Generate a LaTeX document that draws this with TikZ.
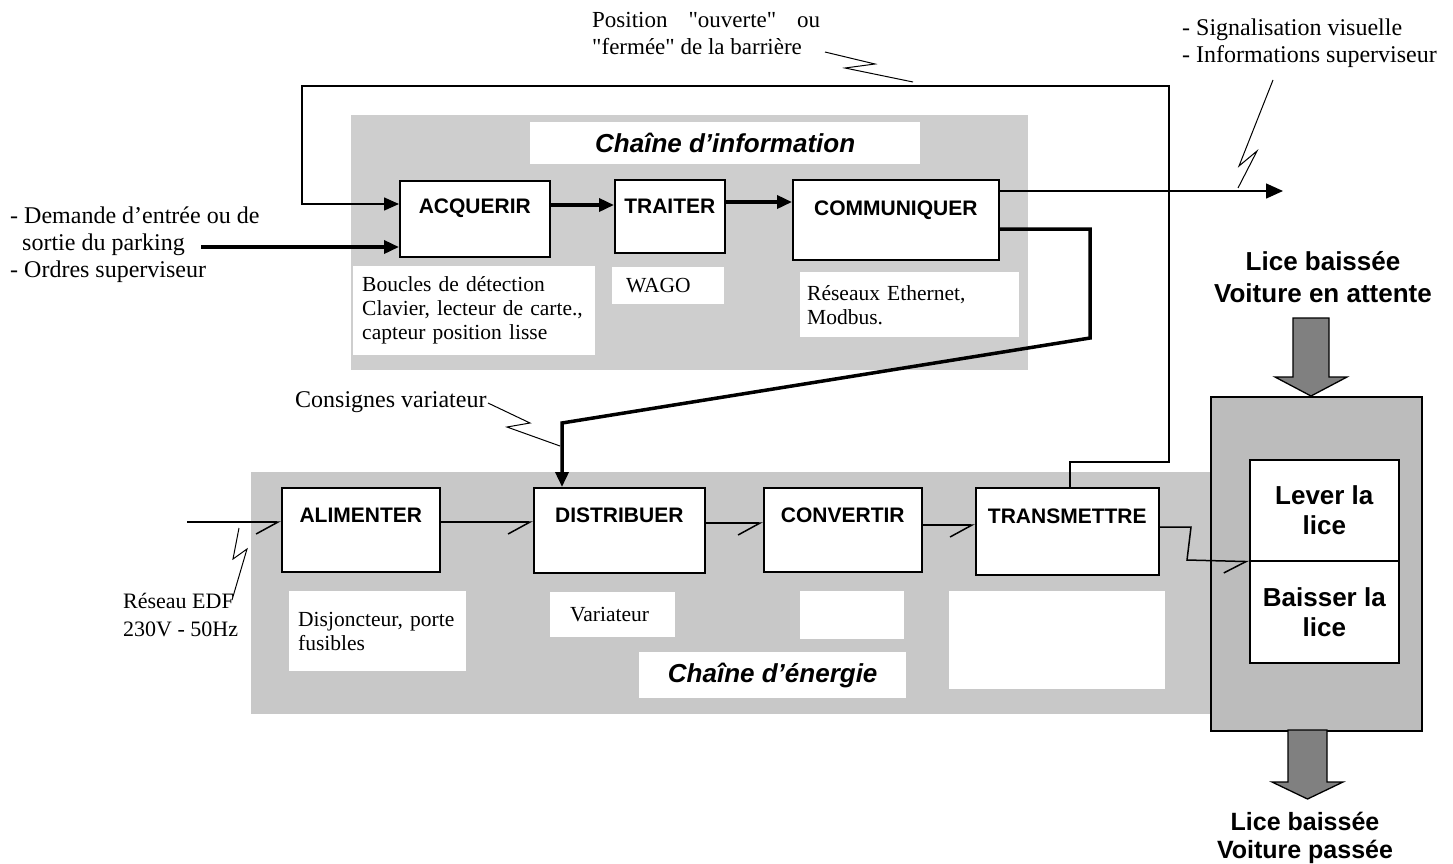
\documentclass[tikz,border=0pt]{standalone}
\usepackage{fontspec}
\setmainfont{Liberation Serif}[Ligatures=TeXOff]
\setsansfont{Liberation Sans}
\usetikzlibrary{arrows.meta,calc}
\definecolor{infogray}{RGB}{206,206,206}
\definecolor{enggray}{RGB}{200,200,200}
\definecolor{sysgray}{RGB}{188,188,188}
\definecolor{arrgray}{RGB}{128,128,128}
\newcommand{\fsz}[2]{\fontsize{#1}{#2}\selectfont}
\begin{document}
\begin{tikzpicture}[x=1pt,y=-1pt,
  fbox/.style={draw, line width=1.6pt, fill=white, anchor=north west, inner sep=0pt,
    font=\sffamily\bfseries\fsz{21}{25}, text height=16pt},
  lbox/.style={draw, line width=1.6pt, fill=white, anchor=north west, inner sep=0pt,
    align=center, font=\sffamily\bfseries\fsz{26}{30}},
  tbox/.style={fill=white, anchor=north west, inner ysep=0pt, align=left,
    font=\fsz{21.5}{24}},
  ttl/.style={fill=white, anchor=north west, inner sep=0pt,
    font=\sffamily\bfseries\itshape\fsz{26}{30}},
  note/.style={anchor=north west, inner sep=0pt, align=left},
  big/.style={inner sep=0pt, align=center, font=\sffamily\bfseries},
  thin/.style={line width=1.5pt},
  thick/.style={line width=3.5pt},
  zig/.style={line width=1pt},
  tri/.style={-{Triangle[length=15pt,width=13pt]}},
  barb/.style={-{Straight Barb[harpoon,swap,length=22pt,width=24pt]}},
  blockarrow/.style={line width=1.3pt, fill=arrgray, line join=miter}
]
\fill[white] (0,0) rectangle (1453,863);
\useasboundingbox (0,0) rectangle (1453,863);

% background zones
\fill[infogray] (351,115) rectangle (1028,370);
\fill[enggray] (251,472) rectangle (1215,714);
\node[draw, line width=1.6pt, fill=sysgray, anchor=north west, inner sep=0pt,
  minimum width=211pt, minimum height=334pt] (sys) at (1210,396) {};

% titles
\node[ttl, minimum width=390pt, minimum height=42pt] (tinfo) at (530,122) {Chaîne d’information};
\node[ttl, minimum width=267pt, minimum height=46pt] (teng) at (639,652) {Chaîne d’énergie};

% information chain
\node[fbox, minimum width=150pt, minimum height=76pt, text depth=26pt] (acq) at (399,180) {ACQUERIR};
\node[fbox, minimum width=110pt, minimum height=73pt, text depth=21pt] (tra) at (614,179) {TRAITER};
\node[fbox, minimum width=206pt, minimum height=80pt, text depth=24pt] (com) at (792,179) {COMMUNIQUER};

\node[tbox, text width=224pt, inner xsep=9pt, minimum height=89pt] (tacq) at (353,266)
  {Boucles de détection\\Clavier, lecteur de carte.,\\capteur position lisse};
\node[tbox, text width=84pt, inner xsep=14pt, minimum height=37pt] (ttra) at (612,267) {WAGO};
\node[tbox, text width=205pt, inner xsep=7pt, minimum height=65pt] (tcom) at (800,272)
  {Réseaux Ethernet,\\Modbus.};

% energy chain
\node[fbox, minimum width=158pt, minimum height=84pt, text depth=30pt] (ali) at (281,487) {ALIMENTER};
\node[fbox, minimum width=171pt, minimum height=85pt, text depth=31pt] (dis) at (533,487) {DISTRIBUER};
\node[fbox, minimum width=158pt, minimum height=84pt, text depth=30pt] (con) at (763,487) {CONVERTIR};
\node[fbox, minimum width=183pt, minimum height=87pt, text depth=31pt] (trm) at (975,487) {TRANSMETTRE};

\node[tbox, text width=159pt, inner xsep=9pt, minimum height=80pt] (tali) at (289,591)
  {Disjoncteur, porte\\fusibles};
\node[tbox, text width=85pt, inner xsep=20pt, minimum height=45pt] (tdis) at (550,592) {Variateur};
\node[tbox, inner xsep=0pt, minimum width=104pt, minimum height=48pt] (tcon) at (800,591) {};
\node[tbox, inner xsep=0pt, minimum width=216pt, minimum height=98pt] (ttrm) at (949,591) {};

% system box
\node[lbox, minimum width=149pt, minimum height=101pt] (lev) at (1249,459) {Lever la\\lice};
\node[lbox, minimum width=149pt, minimum height=102pt] (bai) at (1249,560) {Baisser la\\lice};

% block arrows
\draw[blockarrow] (1293,318) -- (1329,318) -- (1329,377) -- (1347,377) -- (1311,396)
  -- (1275,377) -- (1293,377) -- cycle;
\draw[blockarrow] (1288,730) -- (1327,730) -- (1327,782) -- (1343,782) -- (1307.5,799)
  -- (1272,782) -- (1288,782) -- cycle;

% texts
\node[note, font=\fsz{23}{27}] (pos) at (592,12)
  {\makebox[228pt][s]{Position "ouverte" ou}\\"fermée" de la barrière};
\node[note, font=\fsz{24}{27}] (sig) at (1182,18.5)
  {- Signalisation visuelle\\- Informations superviseur};
\node[note, font=\fsz{24}{27}] (dem) at (10,206.5)
  {- Demande d’entrée ou de\\\hspace*{12pt}sortie du parking\\- Ordres superviseur};
\node[note, font=\fsz{24}{27}] (cons) at (295,391) {Consignes variateur};
\node[note, font=\fsz{22}{28}] (edft) at (123,593) {Réseau EDF\\230V - 50Hz};
\node[big, anchor=north, font=\sffamily\bfseries\fsz{26}{32}] (ltop) at (1323,251)
  {Lice baissée\\Voiture en attente};
\node[big, anchor=north, font=\sffamily\bfseries\fsz{25}{28}] (lbot) at (1305,812)
  {Lice baissée\\Voiture passée};

% information connectors
\coordinate (in) at (201,247);
\coordinate (out) at (1283,191);
\draw[thin, tri] (trm.north -| 1070,0) -- (1070,462) -- (1169,462) -- (1169,86)
  -- (302,86) -- (302,204) -- (acq.west |- 0,204);
\draw[thick, tri] (in) -- (acq.west |- 0,247);
\draw[thick, tri] (acq.east |- 0,205) -- (tra.west |- 0,205);
\draw[thick, tri] (tra.east |- 0,202) -- (com.west |- 0,202);
\draw[thin, -{Triangle[length=17pt,width=15pt]}] (com.east |- 0,191) -- (out);
\draw[thick, tri] (com.east |- 0,229) -- (1090,229) -- (1090,338) -- (562,423)
  -- (dis.north -| 562,0);

% energy connectors
\coordinate (edf) at (187,522);
\draw[thin, barb] (edf) -- (ali.west |- 0,522);
\draw[thin, barb] (ali.east |- 0,522) -- (dis.west |- 0,522);
\draw[thin, barb] (dis.east |- 0,523) -- (con.west |- 0,523);
\draw[thin, barb] (con.east |- 0,525) -- (trm.west |- 0,525);
\draw[thin, barb] (trm.east |- 0,527) -- (1191,527) -- (1187,560) -- (lev.south west);

% lightning marks
\draw[zig] (825,52) -- (875,64) -- (845,68) -- (913,82);
\draw[zig] (1273,80) -- (1239,166) -- (1257,151) -- (1238,188);
\draw[zig] (488,403) -- (530,423) -- (507,427) -- (560,446);
\draw[zig] (239,528) -- (233,559) -- (247,549) -- (232,600);
\end{tikzpicture}
\end{document}
